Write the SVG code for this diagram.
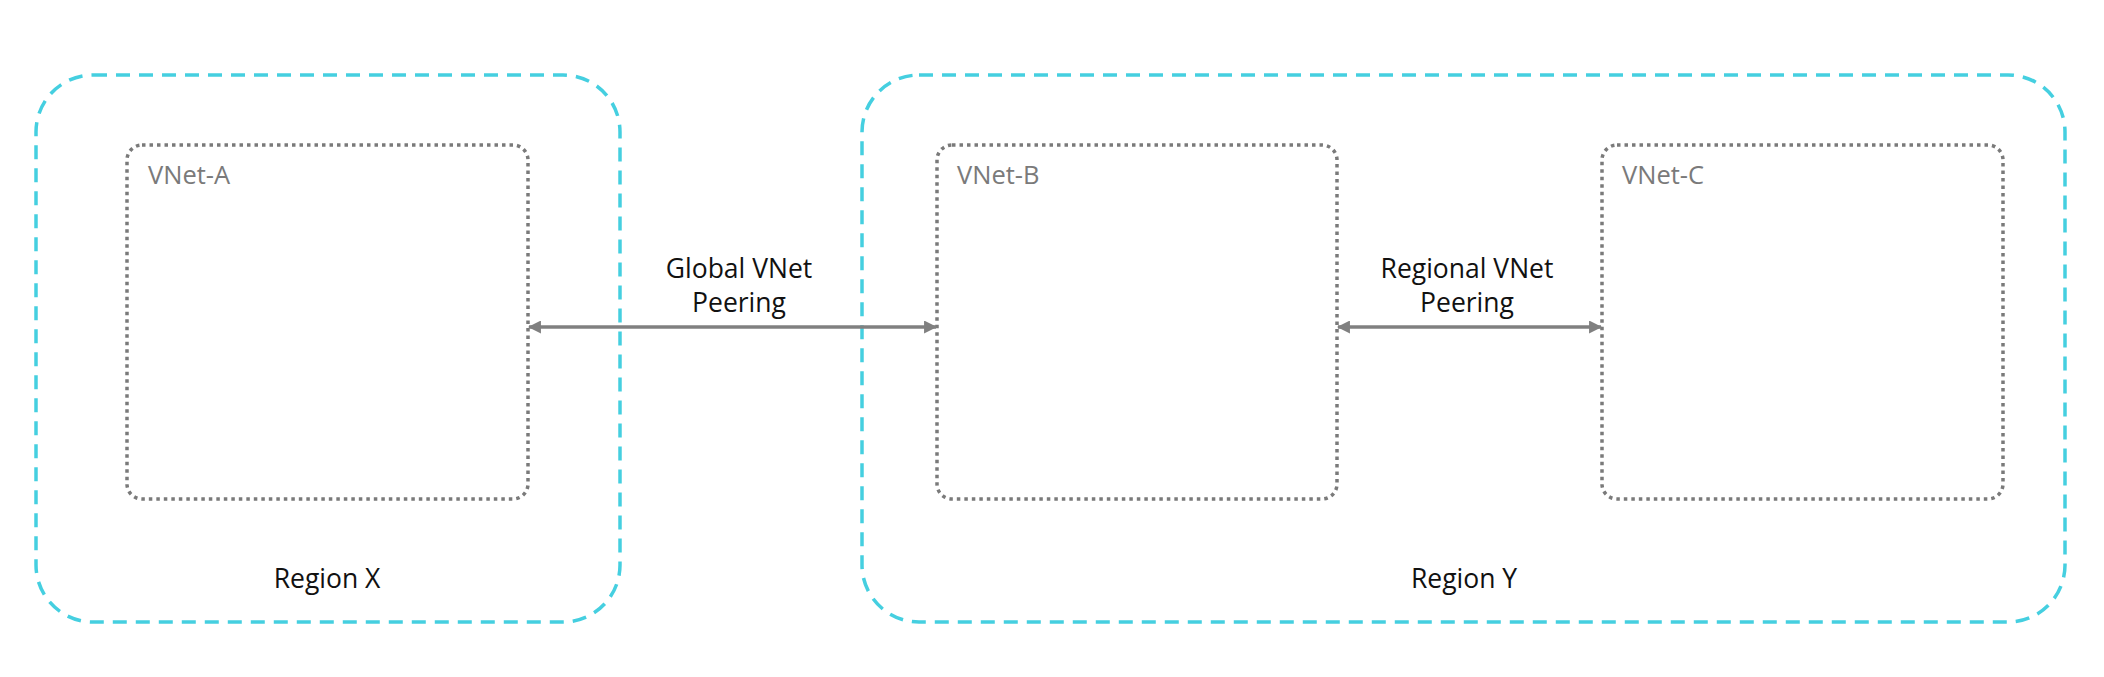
<svg xmlns="http://www.w3.org/2000/svg" width="2104" height="677" viewBox="0 0 2104 677">
  <style>
    .region { fill: none; stroke: #45cfe0; stroke-width: 3.5; stroke-dasharray: 14 9; }
    .vnet { fill: none; stroke: #7a7a7a; stroke-width: 3.5; stroke-dasharray: 3.5 4; }
    .vlabel { font-family: "Open Sans", "Noto Sans", "Liberation Sans", sans-serif; font-size: 25.5px; fill: #7a7a7a; }
    .label { font-family: "Open Sans", "Noto Sans", "Liberation Sans", sans-serif; font-size: 26.5px; fill: #111111; text-anchor: middle; }
    .conn { stroke: #808080; stroke-width: 3.5; fill: none; }
  </style>
  <defs>
    <marker id="arrow" viewBox="0 0 12 12" refX="11" refY="6" markerWidth="13" markerHeight="13" markerUnits="userSpaceOnUse" orient="auto-start-reverse">
      <path d="M0,0 L12,6 L0,12 z" fill="#808080"/>
    </marker>
  </defs>
  <rect x="0" y="0" width="2104" height="677" fill="#ffffff"/>

  <g id="region-x">
    <rect class="region" x="36" y="75" width="584" height="547" rx="57" ry="57"/>
    <text class="label" x="327" y="588">Region X</text>
  </g>
  <g id="region-y">
    <rect class="region" x="862" y="75" width="1203" height="547" rx="57" ry="57"/>
    <text class="label" x="1464" y="588">Region Y</text>
  </g>

  <g id="vnet-a">
    <rect class="vnet" x="127" y="145" width="401" height="354" rx="15" ry="15"/>
    <text class="vlabel" x="148" y="184">VNet-A</text>
  </g>
  <g id="vnet-b">
    <rect class="vnet" x="937" y="145" width="400" height="354" rx="15" ry="15"/>
    <text class="vlabel" x="957" y="184">VNet-B</text>
  </g>
  <g id="vnet-c">
    <rect class="vnet" x="1602" y="145" width="401" height="354" rx="15" ry="15"/>
    <text class="vlabel" x="1622" y="184">VNet-C</text>
  </g>

  <g id="connectors">
    <line class="conn" x1="529" y1="327" x2="936" y2="327" marker-start="url(#arrow)" marker-end="url(#arrow)"/>
    <text class="label" x="739" y="278">Global VNet</text>
    <text class="label" x="739" y="312">Peering</text>
    <line class="conn" x1="1338" y1="327" x2="1601" y2="327" marker-start="url(#arrow)" marker-end="url(#arrow)"/>
    <text class="label" x="1467" y="278">Regional VNet</text>
    <text class="label" x="1467" y="312">Peering</text>
  </g>
</svg>
